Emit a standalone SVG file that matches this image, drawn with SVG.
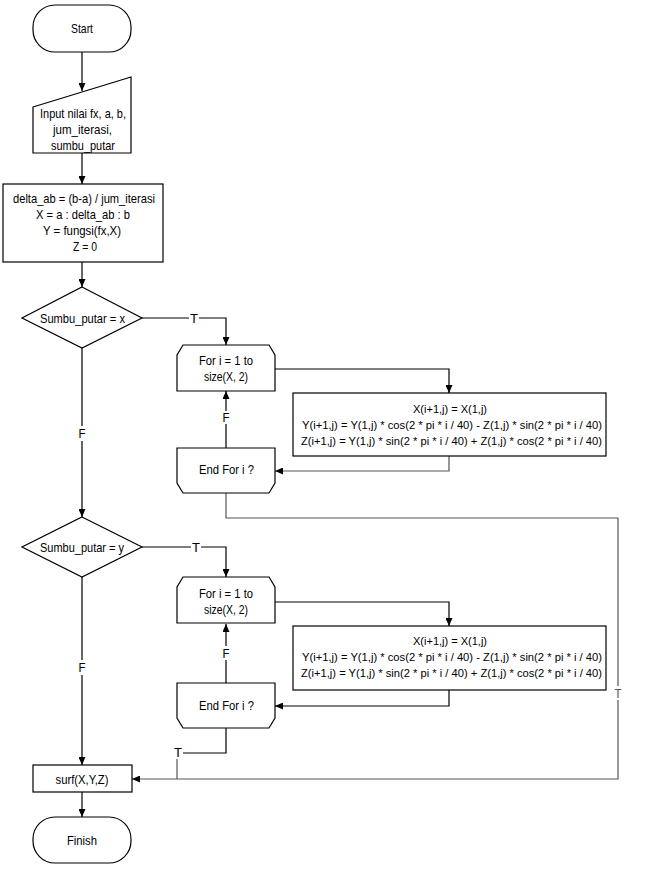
<svg xmlns="http://www.w3.org/2000/svg" width="645" height="873" viewBox="0 0 645 873">
<style>
.s{fill:#fff;stroke:#000;stroke-width:1.2}
.t{font-family:"Liberation Sans",Arial,sans-serif;font-size:13px;fill:#000;text-anchor:middle}
.m{font-size:11px}
.c{fill:none;stroke:#000;stroke-width:1.2}
.g{fill:none;stroke:#555;stroke-width:1.2}
</style>
<defs>
<marker id="a" markerUnits="userSpaceOnUse" markerWidth="8" markerHeight="7" refX="8" refY="3.5" orient="auto"><path d="M0,0 L8,3.5 L0,7 z" fill="#000"/></marker>
</defs>
<rect width="645" height="873" fill="#fff"/>
<g id="connectors">
<path class="c" d="M82,52 V91" marker-end="url(#a)"/>
<path class="c" d="M82,153 V184" marker-end="url(#a)"/>
<path class="c" d="M82,262 V287" marker-end="url(#a)"/>
<path class="c" d="M142,318 H189 M199,318 H226 V345" marker-end="url(#a)"/>
<path class="c" d="M82,348 V426 M82,441 V517" marker-end="url(#a)"/>
<path class="c" d="M275,369 H449 V393" marker-end="url(#a)"/>
<path class="g" d="M449,456 V471 H275" marker-end="url(#a)"/>
<path class="c" d="M226,448 V424 M226,411 V391" marker-end="url(#a)"/>
<path class="g" d="M226,493 V518 H618 V686 M618,700 V779 H132" marker-end="url(#a)"/>
<path class="c" d="M142,547 H191 M201,547 H226 V577" marker-end="url(#a)"/>
<path class="c" d="M82,577 V660 M82,675 V765" marker-end="url(#a)"/>
<path class="c" d="M275,602 H449 V626" marker-end="url(#a)"/>
<path class="c" d="M449,690 V706 H275" marker-end="url(#a)"/>
<path class="c" d="M226,683 V660 M226,646 V624" marker-end="url(#a)"/>
<path class="c" d="M226,728 V753 H183"/>
<path class="g" d="M177,759 V779"/>
<path class="c" d="M82,792 V817" marker-end="url(#a)"/>
<text class="t" x="194" y="322.5" textLength="8" lengthAdjust="spacingAndGlyphs">T</text>
<text class="t" x="82" y="438" textLength="7" lengthAdjust="spacingAndGlyphs">F</text>
<text class="t" x="226" y="422" textLength="7" lengthAdjust="spacingAndGlyphs">F</text>
<text class="t" x="196" y="551.5" textLength="8" lengthAdjust="spacingAndGlyphs">T</text>
<text class="t" x="82" y="672" textLength="7" lengthAdjust="spacingAndGlyphs">F</text>
<text class="t" x="226" y="658" textLength="7" lengthAdjust="spacingAndGlyphs">F</text>
<text class="t" x="618" y="697.5" textLength="7" lengthAdjust="spacingAndGlyphs" style="fill:#555">T</text>
<text class="t" x="178" y="756.5" textLength="8" lengthAdjust="spacingAndGlyphs">T</text>
</g>
<g id="start">
<rect class="s" x="33" y="5" width="98" height="47" rx="22"/>
<text class="t" x="82" y="32.5" textLength="22" lengthAdjust="spacingAndGlyphs">Start</text>
</g>
<g id="input">
<polygon class="s" points="33,107 131,77 131,153 33,153"/>
<text class="t" x="83" y="117.5" textLength="86" lengthAdjust="spacingAndGlyphs">Input nilai fx, a, b,</text>
<text class="t" x="82.5" y="133.5" textLength="59" lengthAdjust="spacingAndGlyphs">jum_iterasi,</text>
<text class="t" x="83" y="149.5" textLength="64" lengthAdjust="spacingAndGlyphs">sumbu_putar</text>
</g>
<g id="init">
<rect class="s" x="3" y="184" width="160" height="78"/>
<text class="t" x="84" y="202.5" textLength="142" lengthAdjust="spacingAndGlyphs">delta_ab = (b-a) / jum_iterasi</text>
<text class="t" x="83" y="218.5" textLength="94" lengthAdjust="spacingAndGlyphs">X = a : delta_ab : b</text>
<text class="t" x="82" y="234.5" textLength="78" lengthAdjust="spacingAndGlyphs">Y = fungsi(fx,X)</text>
<text class="t" x="85" y="250.5" textLength="24" lengthAdjust="spacingAndGlyphs">Z = 0</text>
</g>
<g id="decision-x">
<polygon class="s" points="82,287 142,318 82,348 22,318"/>
<text class="t" x="82.5" y="322.5" textLength="85" lengthAdjust="spacingAndGlyphs">Sumbu_putar = x</text>
</g>
<g id="for-x">
<polygon class="s" points="183,345 269,345 275,355 275,391 177,391 177,355"/>
<text class="t" x="226" y="364.5" textLength="54" lengthAdjust="spacingAndGlyphs">For i = 1 to</text>
<text class="t" x="226" y="380.5" textLength="44" lengthAdjust="spacingAndGlyphs">size(X, 2)</text>
</g>
<g id="rotate-x">
<rect class="s" x="293" y="393" width="313" height="63"/>
<text class="t m" x="450" y="413" textLength="74" lengthAdjust="spacingAndGlyphs">X(i+1,j) = X(1,j)</text>
<text class="t m" x="452" y="429" textLength="300" lengthAdjust="spacingAndGlyphs">Y(i+1,j) = Y(1,j) * cos(2 * pi * i / 40) - Z(1,j) * sin(2 * pi * i / 40)</text>
<text class="t m" x="451.5" y="445" textLength="301" lengthAdjust="spacingAndGlyphs">Z(i+1,j) = Y(1,j) * sin(2 * pi * i / 40) + Z(1,j) * cos(2 * pi * i / 40)</text>
</g>
<g id="end-x">
<polygon class="s" points="177,448 275,448 275,483 269,493 183,493 177,483"/>
<text class="t" x="226.5" y="473.5" textLength="55" lengthAdjust="spacingAndGlyphs">End For i ?</text>
</g>
<g id="decision-y">
<polygon class="s" points="82,517 142,547 82,577 22,547"/>
<text class="t" x="82" y="551.5" textLength="84" lengthAdjust="spacingAndGlyphs">Sumbu_putar = y</text>
</g>
<g id="for-y">
<polygon class="s" points="183,577 269,577 275,587 275,623 177,623 177,587"/>
<text class="t" x="226" y="597.5" textLength="54" lengthAdjust="spacingAndGlyphs">For i = 1 to</text>
<text class="t" x="226" y="613.5" textLength="44" lengthAdjust="spacingAndGlyphs">size(X, 2)</text>
</g>
<g id="rotate-y">
<rect class="s" x="293" y="626" width="313" height="64"/>
<text class="t m" x="450" y="645" textLength="74" lengthAdjust="spacingAndGlyphs">X(i+1,j) = X(1,j)</text>
<text class="t m" x="452" y="661" textLength="300" lengthAdjust="spacingAndGlyphs">Y(i+1,j) = Y(1,j) * cos(2 * pi * i / 40) - Z(1,j) * sin(2 * pi * i / 40)</text>
<text class="t m" x="451.5" y="677" textLength="301" lengthAdjust="spacingAndGlyphs">Z(i+1,j) = Y(1,j) * sin(2 * pi * i / 40) + Z(1,j) * cos(2 * pi * i / 40)</text>
</g>
<g id="end-y">
<polygon class="s" points="177,683 275,683 275,718 269,728 183,728 177,718"/>
<text class="t" x="226.5" y="709.5" textLength="55" lengthAdjust="spacingAndGlyphs">End For i ?</text>
</g>
<g id="surf">
<rect class="s" x="33" y="765" width="99" height="27"/>
<text class="t" x="82" y="783.5" textLength="53" lengthAdjust="spacingAndGlyphs">surf(X,Y,Z)</text>
</g>
<g id="finish">
<rect class="s" x="33" y="817" width="98" height="46" rx="22"/>
<text class="t" x="82" y="844.5" textLength="30" lengthAdjust="spacingAndGlyphs">Finish</text>
</g>
</svg>
